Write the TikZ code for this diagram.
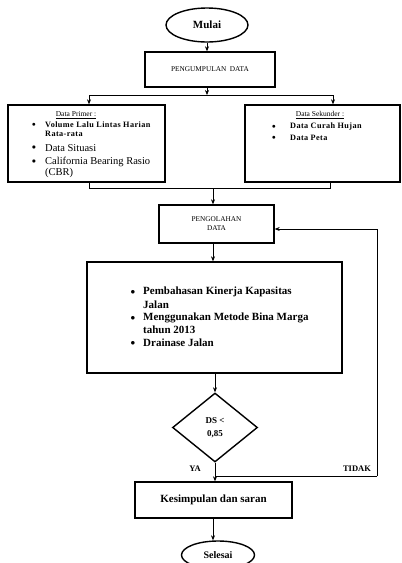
\documentclass[tikz,border=0pt]{standalone}
\usepackage{fontspec}
\setmainfont{Liberation Serif}
\usetikzlibrary{shapes.geometric,arrows.meta}
\tikzset{
  box/.style={draw, line width=1.4pt, inner sep=0pt},
  term/.style={draw, ellipse, line width=1.4pt, inner sep=0pt, font=\bfseries\fontsize{11}{12}\selectfont},
  dec/.style={draw, diamond, line width=1.4pt, inner sep=0pt, align=center, font=\bfseries\fontsize{9}{13}\selectfont},
  arr/.style={line width=0.6pt, -{Stealth[length=5pt,width=4pt]}},
  ln/.style={line width=0.6pt},
  txt/.style={inner sep=0pt, anchor=west},
  bul/.style={inner sep=0pt},
  small/.style={font=\bfseries\fontsize{8.2}{8}\selectfont\addfontfeature{LetterSpace=5}},
  mid/.style={font=\fontsize{10.5}{11}\selectfont},
  big/.style={font=\bfseries\fontsize{11}{12}\selectfont},
}
\begin{document}
\begin{tikzpicture}[x=1pt,y=-1pt]
\useasboundingbox (0,0) rectangle (402,563);
% terminals and boxes
\node[term, minimum width=82, minimum height=34] (mulai) at (207,25) {Mulai};
\node[box, minimum width=130, minimum height=35, font=\fontsize{7.3}{8}\selectfont] (kumpul) at (210,69.5) {PENGUMPULAN\ \ DATA};
\node[box, minimum width=157, minimum height=77] (primer) at (86.5,143.5) {};
\node[box, minimum width=155, minimum height=77] (sekunder) at (322.5,143.5) {};
\node[box, minimum width=115, minimum height=38, align=center, font=\fontsize{7.3}{9}\selectfont] (olah) at (216.5,224) {PENGOLAHAN\\DATA};
\node[box, minimum width=255, minimum height=111] (bahas) at (214.5,317.5) {};
\node[dec, minimum width=85, minimum height=69] (ds) at (215,427.5) {DS <\\0,85};
\node[box, minimum width=157, minimum height=36, big] (kes) at (213.5,500) {Kesimpulan dan saran};
\node[term, minimum width=73, minimum height=28, font=\bfseries\fontsize{10}{10}\selectfont] (selesai) at (218,555) {Selesai};

% primer contents
\node[bul, font=\fontsize{7.5}{8}\selectfont] (ph) at (76,115) {\underline{Data Primer :}};
\node[bul] (pb1) at (34,125) {\fontsize{7}{8}\selectfont$\bullet$};
\node[txt, small] (p1) at (45,125) {Volume Lalu Lintas Harian};
\node[txt, small] (p1b) at (45,134) {Rata-rata};
\node[bul] (pb2) at (34,148) {\fontsize{8}{8}\selectfont$\bullet$};
\node[txt, mid] (p2) at (45,148) {Data Situasi};
\node[bul] (pb3) at (34,162) {\fontsize{8}{8}\selectfont$\bullet$};
\node[txt, mid] (p3) at (45,162) {California Bearing Rasio};
\node[txt, mid] (p3b) at (45,173) {(CBR)};

% sekunder contents
\node[bul, font=\fontsize{7.5}{8}\selectfont] (sh) at (320,115) {\underline{Data Sekunder :}};
\node[bul] (sb1) at (274,127) {\fontsize{7}{8}\selectfont$\bullet$};
\node[txt, small] (s1) at (290,127) {Data Curah Hujan};
\node[bul] (sb2) at (274,138) {\fontsize{7}{8}\selectfont$\bullet$};
\node[txt, small] (s2) at (290,138) {Data Peta};

% pembahasan contents
\node[bul] (bb1) at (133,292) {\fontsize{9}{9}\selectfont$\bullet$};
\node[txt, big] (b1) at (143,292) {Pembahasan Kinerja Kapasitas};
\node[txt, big] (b1b) at (143,305) {Jalan};
\node[bul] (bb2) at (133,318) {\fontsize{9}{9}\selectfont$\bullet$};
\node[txt, big] (b2) at (143,318) {Menggunakan Metode Bina Marga};
\node[txt, big] (b2b) at (143,330) {tahun 2013};
\node[bul] (bb3) at (133,343) {\fontsize{9}{9}\selectfont$\bullet$};
\node[txt, big] (b3) at (143,343) {Drainase Jalan};

% labels
\node[bul, font=\bfseries\fontsize{8.5}{9}\selectfont] (ya) at (195,469) {YA};
\node[bul, font=\bfseries\fontsize{8.5}{9}\selectfont] (tidak) at (357,469) {TIDAK};

% connectors
\coordinate (split) at (207,95);
\coordinate (splitL) at (89,95);
\coordinate (splitR) at (333,95);
\coordinate (joinL) at (89,188);
\coordinate (joinR) at (330,188);
\coordinate (join) at (213,188);
\coordinate (fbB) at (377,476);
\coordinate (fbT) at (377,229);
\coordinate (yaJ) at (215,476);

\draw[arr] (mulai.south) -- (mulai.south |- kumpul.north);
\draw[arr] (kumpul.south -| split) -- (split);
\draw[ln] (splitL) -- (splitR);
\draw[arr] (splitL) -- (splitL |- primer.north);
\draw[arr] (splitR) -- (splitR |- sekunder.north);
\draw[ln] (joinL |- primer.south) -- (joinL) -- (joinR) -- (joinR |- sekunder.south);
\draw[arr] (join) -- (join |- olah.north);
\draw[arr] (olah.south -| join) -- (join |- bahas.north);
\draw[arr] (bahas.south -| ds.north) -- (ds.north);
\draw[arr] (ds.south) -- (ds.south |- kes.north);
\draw[ln] (yaJ) -- (fbB);
\draw[arr] (fbB) -- (fbT) -- (olah.east |- fbT);
\draw[arr] (kes.south -| join) -- (join |- selesai.north);
\end{tikzpicture}
\end{document}
